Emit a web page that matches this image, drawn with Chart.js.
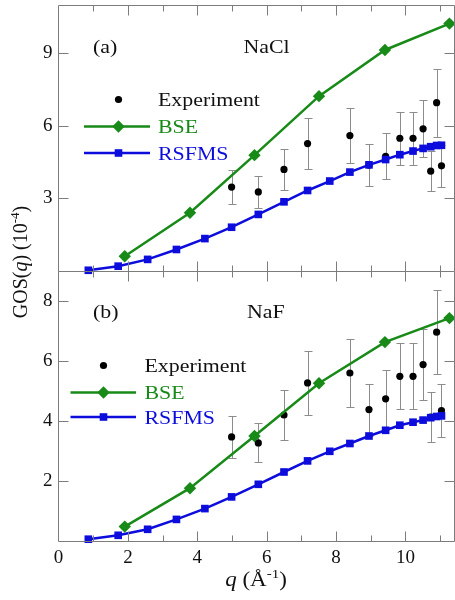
<!DOCTYPE html>
<html><head><meta charset="utf-8">
<script src="https://cdn.jsdelivr.net/npm/chart.js@4.4.1/dist/chart.umd.min.js"></script>
<style>
html,body{margin:0;padding:0;background:#fff;width:455px;height:600px;overflow:hidden}
canvas{position:absolute;left:0;top:0}
</style></head><body>
<canvas id="cTop" width="455" height="600"></canvas>
<canvas id="cBot" width="455" height="600"></canvas>
<script>
// ---- data ----
const seriesLabels = ['Experiment', 'BSE', 'RSFMS'];
const rsfmsQ = [0.86, 1.72, 2.57, 3.40, 4.22, 4.99, 5.76, 6.50, 7.18, 7.82, 8.40, 8.95, 9.43, 9.84, 10.22, 10.51, 10.73, 10.90, 11.04];
const rsfmsNaCl = [0.03, 0.20, 0.48, 0.89, 1.34, 1.81, 2.34, 2.86, 3.33, 3.72, 4.09, 4.39, 4.61, 4.81, 4.96, 5.07, 5.14, 5.19, 5.20];
const rsfmsNaF = [0.06, 0.19, 0.39, 0.72, 1.08, 1.47, 1.89, 2.30, 2.67, 2.99, 3.25, 3.50, 3.69, 3.86, 3.96, 4.03, 4.11, 4.15, 4.17];
const bseQ = [1.91, 3.79, 5.65, 7.51, 9.41, 11.27];
const bseNaCl = [0.61, 2.41, 4.79, 7.23, 9.14, 10.23];
const bseNaF = [0.48, 1.76, 3.50, 5.26, 6.63, 7.43];
const expQ = [4.99, 5.76, 6.50, 7.18, 8.40, 8.95, 9.43, 9.84, 10.22, 10.51, 10.73, 10.90, 11.04];
const expVal = [3.47, 3.27, 4.20, 5.27, 5.60, 4.38, 4.74, 5.49, 5.49, 5.88, 4.13, 6.96, 4.35];
const expErr = [0.70, 0.65, 0.84, 1.07, 1.12, 0.87, 0.95, 1.10, 1.10, 1.18, 0.83, 1.40, 0.88];
const xTicks = [0, 2, 4, 6, 8, 10];
const xMinorTicks = [1, 3, 5, 7, 9, 11];
const yTicksNaCl = [3, 6, 9];
const yTicksNaF = [2, 4, 6, 8];
const panelNames = ['(a)', '(b)'];
const compoundNames = ['NaCl', 'NaF'];

// ---- style ----
const GREEN = '#178a17', BLUE = '#0c0cdc', FRAME = '#7c7c7c', ERRC = '#8c8c8c', TXT = '#111';
const FAM = '"Liberation Serif", "Times New Roman", serif';
const X_MAX = 11.43;
const SX = 1.15;
Chart.defaults.font.family = FAM;

function pts(xs, ys) { return xs.map((x, i) => ({ x: x, y: ys[i] })); }

function stretchText(ctx, text, x, y, size, color, style) {
  ctx.save();
  ctx.font = (style || 'normal') + ' ' + size + 'px ' + FAM;
  ctx.fillStyle = color;
  ctx.textBaseline = 'alphabetic';
  ctx.textAlign = 'left';
  ctx.translate(x, y);
  ctx.scale(SX, 1);
  ctx.fillText(text, 0, 0);
  ctx.restore();
}

function drawMarker(ctx, kind, x, y, color) {
  ctx.save();
  ctx.fillStyle = color;
  ctx.beginPath();
  if (kind === 'dot') { ctx.arc(x, y, 3.6, 0, Math.PI * 2); }
  else if (kind === 'diamond') { const r = 6.2; ctx.moveTo(x - r, y); ctx.lineTo(x, y - r); ctx.lineTo(x + r, y); ctx.lineTo(x, y + r); ctx.closePath(); }
  else { const h = 3.8; ctx.rect(x - h, y - h, 2 * h, 2 * h); }
  ctx.fill();
  ctx.restore();
}

function richWidth(ctx, segs, size) {
  let w = 0;
  segs.forEach(s => {
    ctx.font = (s[1] || 'normal') + ' ' + (s[2] ? Math.round(size * 0.65) : size) + 'px ' + FAM;
    w += ctx.measureText(s[0]).width;
  });
  return w;
}
function drawRich(ctx, segs, size, x0, y0) {
  let x = x0;
  segs.forEach(s => {
    const sz = s[2] ? Math.round(size * 0.65) : size;
    ctx.font = (s[1] || 'normal') + ' ' + sz + 'px ' + FAM;
    ctx.fillText(s[0], x, s[2] ? y0 - size * 0.42 : y0);
    x += ctx.measureText(s[0]).width;
  });
}

function zeroPad(s) { s.paddingTop = 0; s.paddingBottom = 0; s.paddingLeft = 0; s.paddingRight = 0; }

function panelPlugin(cfg) {
  return {
    id: 'panel' + cfg.idx,
    beforeDatasetsDraw(chart) {
      const ctx = chart.ctx, xs = chart.scales.x, ys = chart.scales.y;
      ctx.save();
      ctx.strokeStyle = ERRC; ctx.lineWidth = 1;
      expQ.forEach((q, i) => {
        const px = Math.round(xs.getPixelForValue(q)) + 0.5;
        const y1 = Math.round(ys.getPixelForValue(expVal[i] - expErr[i])) + 0.5;
        const y2 = Math.round(ys.getPixelForValue(expVal[i] + expErr[i])) + 0.5;
        ctx.beginPath();
        ctx.moveTo(px, y1); ctx.lineTo(px, y2);
        ctx.moveTo(px - 4, y1); ctx.lineTo(px + 4, y1);
        ctx.moveTo(px - 4, y2); ctx.lineTo(px + 4, y2);
        ctx.stroke();
      });
      ctx.restore();
    },
    afterDraw(chart) {
      const ctx = chart.ctx, a = chart.chartArea, xs = chart.scales.x, ys = chart.scales.y;
      const L = Math.floor(a.left) + 0.5, R = Math.ceil(a.right) - 0.5;
      const T = Math.round(a.top) + 0.5, B = Math.round(a.bottom) + 0.5;
      ctx.save();
      ctx.strokeStyle = FRAME; ctx.lineWidth = 1;
      ctx.beginPath();
      ctx.moveTo(L, T); ctx.lineTo(R, T); ctx.lineTo(R, B); ctx.lineTo(L, B); ctx.closePath();
      const tick = (v, len) => {
        const px = Math.round(xs.getPixelForValue(v)) + 0.5;
        if (px <= L + 1 || px >= R - 1) return;
        ctx.moveTo(px, B); ctx.lineTo(px, B - len);
        ctx.moveTo(px, T); ctx.lineTo(px, T + len);
      };
      xTicks.forEach(v => tick(v, 10));
      xMinorTicks.forEach(v => tick(v, 6));
      cfg.yTicks.forEach(v => {
        const py = Math.round(ys.getPixelForValue(v)) + 0.5;
        ctx.moveTo(L, py); ctx.lineTo(L + 10, py);
        ctx.moveTo(R, py); ctx.lineTo(R - 10, py);
      });
      ctx.stroke();
      ctx.restore();

      stretchText(ctx, panelNames[cfg.idx], a.left + cfg.ann.letterDx, a.top + cfg.ann.dy, 19, TXT);
      stretchText(ctx, compoundNames[cfg.idx], a.left + cfg.ann.nameDx, a.top + cfg.ann.dy, 19, TXT);

      const lg = cfg.legend;
      const rows = lg.rows.map(r => a.top + r);
      drawMarker(ctx, 'dot', lg.mx, rows[0], '#000');
      stretchText(ctx, seriesLabels[0], lg.tx, rows[0] + 6.5, 19, TXT);
      ctx.save(); ctx.lineWidth = 2.5;
      ctx.strokeStyle = GREEN; ctx.beginPath(); ctx.moveTo(lg.l0, rows[1]); ctx.lineTo(lg.l1, rows[1]); ctx.stroke();
      ctx.strokeStyle = BLUE; ctx.beginPath(); ctx.moveTo(lg.l0, rows[2]); ctx.lineTo(lg.l1, rows[2]); ctx.stroke();
      ctx.restore();
      drawMarker(ctx, 'diamond', lg.mx, rows[1], GREEN);
      drawMarker(ctx, 'square', lg.mx, rows[2], BLUE);
      stretchText(ctx, seriesLabels[1], lg.tx, rows[1] + 6.5, 19, GREEN);
      stretchText(ctx, seriesLabels[2], lg.tx, rows[2] + 6.5, 19, BLUE);

      if (cfg.idx === 1) {
        const xs2 = [['q', 'italic', false], [' (Å', 'normal', false], ['-1', 'normal', true], [')', 'normal', false]];
        ctx.save();
        ctx.fillStyle = TXT; ctx.textBaseline = 'alphabetic'; ctx.textAlign = 'left';
        const wx = richWidth(ctx, xs2, 20);
        ctx.translate(256, 586); ctx.scale(SX, 1);
        drawRich(ctx, xs2, 20, -wx / 2, 0);
        ctx.restore();
        const ys2 = [['GOS(', 'normal', false], ['q', 'italic', false], [') (10', 'normal', false], ['-4', 'normal', true], [')', 'normal', false]];
        ctx.save();
        ctx.fillStyle = TXT; ctx.textBaseline = 'alphabetic'; ctx.textAlign = 'left';
        const wy = richWidth(ctx, ys2, 20);
        ctx.translate(27, 262); ctx.rotate(-Math.PI / 2);
        drawRich(ctx, ys2, 20, -wy / 2, 0);
        ctx.restore();
      }
    }
  };
}

function buildChart(id, cfg) {
  const lineCommon = { borderWidth: 2.5, pointBorderWidth: 0, pointHoverRadius: 0, clip: false, tension: 0 };
  return new Chart(document.getElementById(id), {
    type: 'line',
    data: {
      datasets: [
        Object.assign({ label: seriesLabels[2], data: pts(rsfmsQ, cfg.rsfms), borderColor: BLUE, backgroundColor: BLUE, pointStyle: 'rect', pointRadius: 5.4, order: 1 }, lineCommon),
        Object.assign({ label: seriesLabels[1], data: pts(bseQ, cfg.bse), borderColor: GREEN, backgroundColor: GREEN, pointStyle: 'rectRot', pointRadius: 6.2, order: 2 }, lineCommon),
        { label: seriesLabels[0], data: pts(expQ, expVal), showLine: false, borderColor: '#000', backgroundColor: '#000', pointRadius: 3.6, pointHoverRadius: 0, pointBorderWidth: 0, order: 3, clip: false }
      ]
    },
    options: {
      responsive: false, animation: false, devicePixelRatio: 1,
      events: [],
      layout: { padding: cfg.padding, autoPadding: false },
      plugins: { legend: { display: false }, tooltip: { enabled: false } },
      scales: {
        x: {
          type: 'linear', min: 0, max: X_MAX, display: cfg.idx === 1,
          grid: { display: false, drawTicks: false }, border: { display: false },
          ticks: { font: { family: FAM, size: 19 }, color: TXT, padding: 6, maxRotation: 0 },
          afterBuildTicks: s => { s.ticks = xTicks.map(v => ({ value: v })); },
          afterFit: s => { s.height = cfg.idx === 1 ? 30 : 0; zeroPad(s); }
        },
        y: {
          type: 'linear', min: 0, max: cfg.yMax,
          grid: { display: false, drawTicks: false }, border: { display: false },
          ticks: { font: { family: FAM, size: 19 }, color: TXT, padding: 6 },
          afterBuildTicks: s => { s.ticks = cfg.yTicks.map(v => ({ value: v })); },
          afterFit: s => { s.width = 58.5; zeroPad(s); }
        }
      }
    },
    plugins: [panelPlugin(cfg)]
  });
}

buildChart('cTop', {
  idx: 0, rsfms: rsfmsNaCl, bse: bseNaCl, yMax: 11.0, yTicks: yTicksNaCl,
  padding: { top: 5, bottom: 329, left: 0, right: 0 },
  ann: { letterDx: 34.5, nameDx: 185, dy: 48 },
  legend: { mx: 118.5, l0: 84, l1: 150, tx: 158, rows: [94.5, 121.5, 148] }
});
buildChart('cBot', {
  idx: 1, rsfms: rsfmsNaF, bse: bseNaF, yMax: 9.0, yTicks: yTicksNaF,
  padding: { top: 271, bottom: 29, left: 0, right: 0 },
  ann: { letterDx: 34.5, nameDx: 188.5, dy: 46.5 },
  legend: { mx: 103.5, l0: 70.5, l1: 136, tx: 144.5, rows: [94.5, 121.5, 146] }
});
</script>
</body></html>
